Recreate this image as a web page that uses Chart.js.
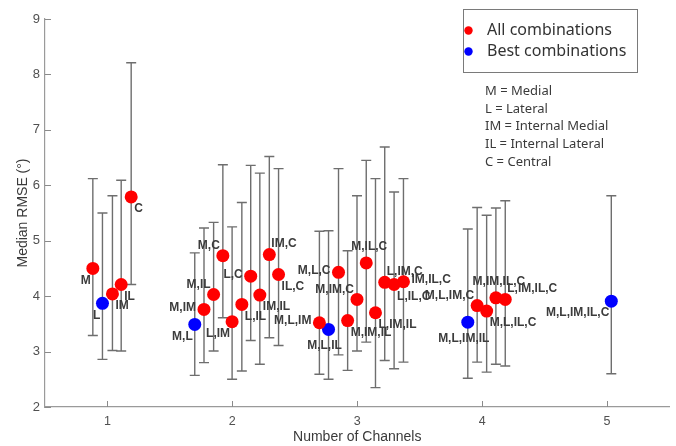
<!DOCTYPE html>
<html>
<head>
<meta charset="utf-8">
<script src="https://cdn.jsdelivr.net/npm/chart.js@4.4.1/dist/chart.umd.min.js"></script>
<style>
  html, body { margin: 0; padding: 0; background: #fff; }
  #wrap { width: 676px; height: 446px; }
</style>
</head>
<body>
<div id="wrap"><canvas id="chart"></canvas></div>
<script>
// channel combinations, grouped by number of channels (1..5)
const comboLabels = [
  'M', 'L', 'IM', 'IL', 'C',
  'M,L', 'M,IM', 'M,IL', 'M,C', 'L,IM', 'L,IL', 'L,C', 'IM,IL', 'IM,C', 'IL,C',
  'M,L,IM', 'M,L,IL', 'M,L,C', 'M,IM,IL', 'M,IM,C', 'M,IL,C', 'L,IM,IL', 'L,IM,C', 'L,IL,C', 'IM,IL,C',
  'M,L,IM,IL', 'M,L,IM,C', 'M,L,IL,C', 'M,IM,IL,C', 'L,IM,IL,C',
  'M,L,IM,IL,C'
];
// x position (number of channels, spread a bit inside each group)
const channelX = [
  0.883, 0.96, 1.04, 1.11, 1.19,
  1.699, 1.773, 1.85, 1.924, 1.998, 2.076, 2.147, 2.22, 2.296, 2.37,
  2.697, 2.77, 2.85, 2.923, 2.998, 3.072, 3.146, 3.22, 3.295, 3.37,
  3.885, 3.96, 4.036, 4.11, 4.185,
  5.034
];
const medianRmse = [
  4.50, 3.87, 4.04, 4.21, 5.79,
  3.49, 3.76, 4.03, 4.73, 3.54, 3.85, 4.36, 4.02, 4.75, 4.39,
  3.52, 3.40, 4.43, 3.56, 3.94, 4.60, 3.70, 4.25, 4.21, 4.26,
  3.53, 3.83, 3.73, 3.97, 3.94,
  3.91
];
const rmseLow = [
  3.29, 2.86, 3.02, 3.01, 4.21,
  2.57, 2.80, 3.01, 3.61, 2.50, 2.65, 3.20, 2.77, 3.25, 3.11,
  2.59, 2.50, 2.94, 2.66, 3.01, 3.17, 2.35, 2.84, 2.69, 2.81,
  2.52, 2.81, 2.63, 2.77, 2.74,
  2.60
];
const rmseHigh = [
  6.12, 5.50, 5.81, 6.09, 8.21,
  4.78, 5.23, 5.33, 6.37, 5.25, 5.69, 6.36, 6.22, 6.52, 6.30,
  5.17, 5.18, 6.30, 4.82, 5.81, 6.45, 6.12, 6.69, 5.88, 6.12,
  5.21, 5.60, 5.46, 5.59, 5.72,
  5.81
];
const bestCombos = ['L', 'M,L', 'M,L,IL', 'M,L,IM,IL', 'M,L,IM,IL,C'];
const xTicks = [1, 2, 3, 4, 5];
const yTicks = [2, 3, 4, 5, 6, 7, 8, 9];
const abbrevLines = [
  'M = Medial',
  'L = Lateral',
  'IM = Internal Medial',
  'IL = Internal Lateral',
  'C = Central'
];

// where each text label sits around its marker
const labelPos = [
  'bl', 'bl', 'br', 'br', 'br',
  'bl', 'l', 'tl', 'tl', 'bl', 'br', 'l', 'br', 'tr', 'br',
  'l', 'b', 'l', 'br', 'tl', 't', 'br', 'tr', 'br', 'r',
  'b', 'tl', 'br', 't', 'tr',
  'bl'
];
const labelOffsets = {
  bl: { align: 'right', dx: -2, dy: 12 },
  br: { align: 'left', dx: 3, dy: 12 },
  tl: { align: 'right', dx: -3, dy: -10 },
  tr: { align: 'left', dx: 2, dy: -11 },
  t: { align: 'center', dx: 3, dy: -16 },
  b: { align: 'center', dx: -4, dy: 16 },
  l: { align: 'right', dx: -8, dy: -2 },
  r: { align: 'left', dx: 8, dy: -2 }
};

const allPts = [];
const bestPts = [];
comboLabels.forEach((lab, i) => {
  const p = { x: channelX[i], y: medianRmse[i], lo: rmseLow[i], hi: rmseHigh[i], label: lab, pos: labelPos[i] };
  if (bestCombos.includes(lab)) bestPts.push(p); else allPts.push(p);
});

// error bars under the markers, text labels over them
const errorBars = {
  id: 'errorBars',
  beforeDatasetsDraw(chart) {
    const ctx = chart.ctx;
    const yScale = chart.scales.y;
    ctx.save();
    ctx.strokeStyle = '#6e6e6e';
    ctx.lineWidth = 1.4;
    chart.data.datasets.forEach((ds, di) => {
      chart.getDatasetMeta(di).data.forEach((el, i) => {
        const p = ds.data[i];
        const yLo = yScale.getPixelForValue(p.lo);
        const yHi = yScale.getPixelForValue(p.hi);
        ctx.beginPath();
        ctx.moveTo(el.x, yLo); ctx.lineTo(el.x, yHi);
        ctx.moveTo(el.x - 5, yLo); ctx.lineTo(el.x + 5, yLo);
        ctx.moveTo(el.x - 5, yHi); ctx.lineTo(el.x + 5, yHi);
        ctx.stroke();
      });
    });
    ctx.restore();
  },
  afterDatasetsDraw(chart) {
    const ctx = chart.ctx;
    ctx.save();
    ctx.font = 'bold 12px "Liberation Sans", Arial, sans-serif';
    ctx.fillStyle = '#3c3c3c';
    ctx.textBaseline = 'middle';
    chart.data.datasets.forEach((ds, di) => {
      chart.getDatasetMeta(di).data.forEach((el, i) => {
        const p = ds.data[i];
        const o = labelOffsets[p.pos];
        ctx.textAlign = o.align;
        ctx.fillText(p.label, el.x + o.dx, el.y + o.dy);
      });
    });
    ctx.restore();
  }
};

// inward tick marks, legend box and the abbreviation notes
const decorations = {
  id: 'decorations',
  afterDraw(chart) {
    const ctx = chart.ctx;
    const { x, y } = chart.scales;
    const area = chart.chartArea;
    ctx.save();
    ctx.strokeStyle = '#8a8a8a';
    ctx.lineWidth = 1;
    ctx.beginPath();
    xTicks.forEach(v => {
      const px = Math.round(x.getPixelForValue(v)) + 0.5;
      ctx.moveTo(px, area.bottom); ctx.lineTo(px, area.bottom - 6);
    });
    yTicks.forEach(v => {
      const py = Math.round(y.getPixelForValue(v)) + 0.5;
      ctx.moveTo(area.left, py); ctx.lineTo(area.left + 6, py);
    });
    ctx.stroke();

    // legend
    const bx = 463.5, by = 9.5, bw = 174, bh = 63;
    ctx.fillStyle = '#fff';
    ctx.fillRect(bx, by, bw, bh);
    ctx.strokeStyle = '#7a7a7a';
    ctx.strokeRect(bx, by, bw, bh);
    ctx.font = '16px "Noto Sans", sans-serif';
    ctx.textAlign = 'left';
    ctx.textBaseline = 'middle';
    chart.data.datasets.forEach((ds, i) => {
      const ly = 30.5 + i * 21;
      ctx.fillStyle = ds.backgroundColor;
      ctx.beginPath();
      ctx.arc(468.5, ly, 4.2, 0, Math.PI * 2);
      ctx.fill();
      ctx.fillStyle = '#333';
      ctx.fillText(ds.label, 487, ly);
    });

    ctx.font = '13px "Noto Sans", sans-serif';
    ctx.fillStyle = '#3a3a3a';
    abbrevLines.forEach((t, i) => {
      ctx.fillText(t, 485, 91 + i * 17.8);
    });
    ctx.restore();
  }
};

new Chart(document.getElementById('chart'), {
  type: 'scatter',
  data: {
    datasets: [
      { label: 'All combinations', data: allPts, backgroundColor: '#ff0000', borderColor: '#ff0000', pointRadius: 6.5, pointHoverRadius: 6.5, borderWidth: 0 },
      { label: 'Best combinations', data: bestPts, backgroundColor: '#0000ff', borderColor: '#0000ff', pointRadius: 6.5, pointHoverRadius: 6.5, borderWidth: 0 }
    ]
  },
  options: {
    responsive: true,
    maintainAspectRatio: false,
    animation: false,
    layout: { padding: { top: 19, right: 3, left: 0, bottom: 0 } },
    plugins: { legend: { display: false }, tooltip: { enabled: false } },
    scales: {
      x: {
        type: 'linear', min: 0.5, max: 5.5,
        afterBuildTicks: s => { s.ticks = xTicks.map(v => ({ value: v })); },
        afterFit: s => { s.height = 39; },
        grid: { display: false, drawTicks: false },
        border: { display: true, color: '#9a9a9a', width: 1.2 },
        ticks: { color: '#505050', font: { family: '"Liberation Sans", Arial', size: 12.5 }, padding: 7, maxRotation: 0 },
        title: { display: true, text: 'Number of Channels', color: '#3a3a3a', font: { family: '"Liberation Sans", Arial', size: 14 }, padding: { top: 0, bottom: 0.5 } }
      },
      y: {
        type: 'linear', min: 2, max: 9,
        afterBuildTicks: s => { s.ticks = yTicks.map(v => ({ value: v })); },
        afterFit: s => { s.width = 45; },
        grid: { display: false, drawTicks: false },
        border: { display: true, color: '#9a9a9a', width: 1.2 },
        ticks: { color: '#505050', font: { family: '"Liberation Sans", Arial', size: 13 }, padding: 5 },
        title: { display: true, text: 'Median RMSE (°)', color: '#3a3a3a', font: { family: '"Liberation Sans", Arial', size: 14 }, padding: { top: 14.5, bottom: 0 } }
      }
    }
  },
  plugins: [errorBars, decorations]
});
</script>
</body>
</html>
